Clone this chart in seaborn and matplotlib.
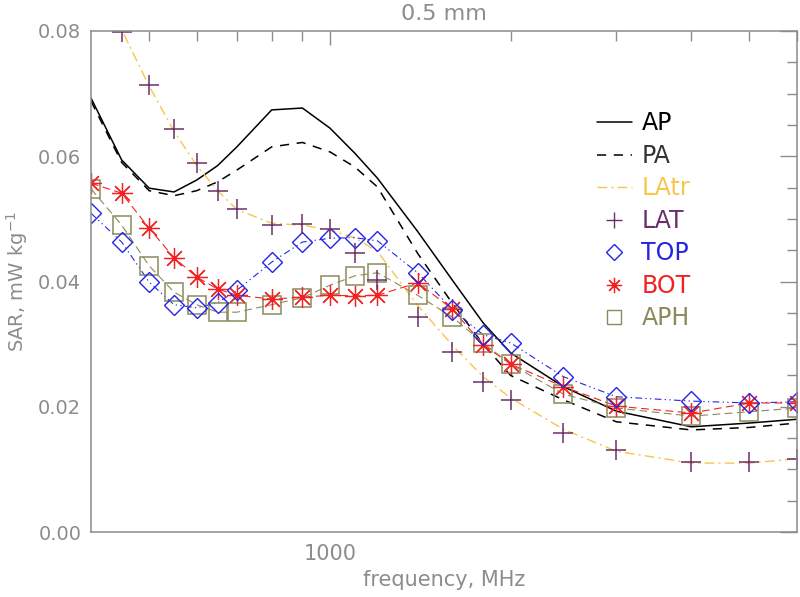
import numpy as np
import pandas as pd
import matplotlib
matplotlib.use("Agg")
import matplotlib.pyplot as plt
from matplotlib.lines import Line2D
from matplotlib.ticker import NullFormatter, FixedLocator, MultipleLocator, FormatStrFormatter
import seaborn as sns

freq = [400, 450, 500, 550, 600, 650, 700, 800, 900, 1000, 1100, 1200,
        1400, 1600, 1800, 2000, 2450, 3000, 4000, 5000, 6000]

ap = [0.0693, 0.0594, 0.0549, 0.0543, 0.0562, 0.0585, 0.0615, 0.0674, 0.0677, 0.0645,
      0.0605, 0.0565, 0.0480, 0.0402, 0.0334, 0.0286, 0.0232, 0.0193, 0.0168, 0.0174, 0.0180]
pa = [0.0688, 0.0590, 0.0545, 0.0537, 0.0545, 0.0559, 0.0578, 0.0615, 0.0622, 0.0607,
      0.0583, 0.0551, 0.0445, 0.0365, 0.0300, 0.0250, 0.0211, 0.0176, 0.0163, 0.0167, 0.0174]
latr = [0.0890, 0.0802, 0.0712, 0.0640, 0.0585, 0.0545, 0.0515, 0.0493, 0.0490, 0.0482,
        0.0470, 0.0448, 0.0362, 0.0298, 0.0248, 0.0214, 0.0164, 0.0129, 0.0110, 0.0110, 0.0117]
lat = [0.0890, 0.0799, 0.0714, 0.0643, 0.0589, 0.0545, 0.0516, 0.0490, 0.0492, 0.0484,
       0.0445, 0.0402, 0.0343, 0.0287, 0.0240, 0.0211, 0.0158, 0.0131, 0.0112, 0.0112, 0.0117]
top = [0.0509, 0.0463, 0.0399, 0.0363, 0.0358, 0.0366, 0.0386, 0.0431, 0.0463, 0.0469,
       0.0470, 0.0465, 0.0414, 0.0355, 0.0315, 0.0302, 0.0248, 0.0216, 0.0209, 0.0206, 0.0208]
bot = [0.0557, 0.0541, 0.0485, 0.0438, 0.0407, 0.0388, 0.0378, 0.0372, 0.0375, 0.0378,
       0.0377, 0.0378, 0.0398, 0.0356, 0.0299, 0.0268, 0.0232, 0.0201, 0.0190, 0.0206, 0.0206]
aph = [0.0548, 0.0490, 0.0425, 0.0383, 0.0363, 0.0351, 0.0351, 0.0363, 0.0374, 0.0394,
       0.0409, 0.0414, 0.0378, 0.0343, 0.0302, 0.0268, 0.0220, 0.0198, 0.0185, 0.0192, 0.0198]

title = "0.5 mm"
xlabel = "frequency, MHz"
ylabel = "SAR, mW kg$^{-1}$"
series_labels = ['AP', 'PA', 'LAtr', 'LAT', 'TOP', 'BOT', 'APH']

sns.set_style("white")
plt.rcParams['font.family'] = ['DejaVu Sans']

GRAY = '#8c8c8c'
C_LATR = '#f7c64a'
C_LAT = '#6b2f6b'
C_TOP = '#2424e6'
C_BOT = '#f22222'
C_APH = '#8c8a5c'

fig = plt.figure(figsize=(8.0, 5.97), dpi=100)
ax = fig.add_axes([91/800, 1 - 532/597, (797 - 91)/800, (532 - 31)/597])

df = pd.DataFrame({'freq': freq, 'AP': ap, 'PA': pa, 'LAtr': latr, 'LAT': lat,
                   'TOP': top, 'BOT': bot, 'APH': aph})

LS_PA = (0, (6, 5))
LS_LATR = (0, (7, 3, 1.5, 3))
LS_TOP = (0, (6, 3, 1.2, 3, 1.2, 3))
LS_DASH = (0, (7, 4))

# lines
sns.lineplot(data=df, x='freq', y='AP', ax=ax, color='black', lw=1.1, linestyle='-')
sns.lineplot(data=df, x='freq', y='PA', ax=ax, color='black', lw=1.1, linestyle=LS_PA)
sns.lineplot(data=df, x='freq', y='LAtr', ax=ax, color=C_LATR, lw=1.0, linestyle=LS_LATR)
sns.lineplot(data=df, x='freq', y='TOP', ax=ax, color=C_TOP, lw=0.8, linestyle=LS_TOP)
sns.lineplot(data=df, x='freq', y='BOT', ax=ax, color=C_BOT, lw=0.8, linestyle=LS_DASH)
sns.lineplot(data=df, x='freq', y='APH', ax=ax, color=C_APH, lw=0.8, linestyle=LS_DASH)

# markers
mk = dict(linestyle='none')
sns.lineplot(data=df, x='freq', y='APH', ax=ax, marker='s', ms=13, mfc='none',
             mec=C_APH, mew=1.1, **mk)
sns.lineplot(data=df, x='freq', y='BOT', ax=ax, marker=(8, 2, 0), ms=15,
             mec=C_BOT, color=C_BOT, mew=0.9, **mk)
sns.lineplot(data=df, x='freq', y='TOP', ax=ax, marker='D', ms=10, mfc='none',
             mec=C_TOP, mew=1.0, **mk)
sns.lineplot(data=df, x='freq', y='LAT', ax=ax, marker='+', ms=15,
             mec=C_LAT, color=C_LAT, mew=1.1, **mk)

ax.set_xscale('log')
ax.set_xlim(400, 6000)
ax.set_ylim(0.0, 0.08)

ax.xaxis.set_major_locator(FixedLocator([1000]))
ax.xaxis.set_minor_locator(FixedLocator([500, 600, 700, 800, 900, 2000, 3000, 4000, 5000, 6000]))
ax.xaxis.set_minor_formatter(NullFormatter())
ax.set_xticklabels(['1000'])
ax.yaxis.set_major_locator(MultipleLocator(0.02))
ax.yaxis.set_minor_locator(MultipleLocator(0.005))
ax.yaxis.set_major_formatter(FormatStrFormatter('%.2f'))

ax.tick_params(which='both', direction='in', top=True, right=True, colors=GRAY,
               labelcolor=GRAY, labelsize=14, width=1)
ax.tick_params(which='major', length=12, pad=7)
ax.tick_params(which='minor', length=7)
ax.tick_params(axis='x', which='major', length=10, pad=9, labelsize=15)
for s in ax.spines.values():
    s.set_color(GRAY)
    s.set_linewidth(1.1)

ax.set_xlabel(xlabel, color=GRAY, fontsize=15, labelpad=4)
ax.set_ylabel(ylabel, color=GRAY, fontsize=14)
ax.yaxis.set_label_coords(-0.087, 0.5)
ax.set_title(title, color=GRAY, fontsize=16, pad=8)

handles = [
    Line2D([], [], color='black', lw=1.1, linestyle='-'),
    Line2D([], [], color='black', lw=1.1, linestyle=LS_PA),
    Line2D([], [], color=C_LATR, lw=1.0, linestyle=LS_LATR),
    Line2D([], [], color=C_LAT, marker='+', ms=11, mew=1.0, linestyle='none'),
    Line2D([], [], color=C_TOP, marker='D', ms=8, mfc='none', mew=1.0, linestyle='none'),
    Line2D([], [], color=C_BOT, marker=(8, 2, 0), ms=11, mew=0.9, linestyle='none'),
    Line2D([], [], color=C_APH, marker='s', ms=10, mfc='none', mew=1.0, linestyle='none'),
]
leg = ax.legend(handles, series_labels, loc='upper left', bbox_to_anchor=(0.687, 0.882),
                frameon=False, fontsize=17, handlelength=1.45, handletextpad=0.42,
                labelspacing=0.36)
label_colors = ['black', '#333333', C_LATR, C_LAT, C_TOP, C_BOT, C_APH]
for t, c in zip(leg.get_texts(), label_colors):
    t.set_color(c)

fig.savefig('out.png', dpi=100)
